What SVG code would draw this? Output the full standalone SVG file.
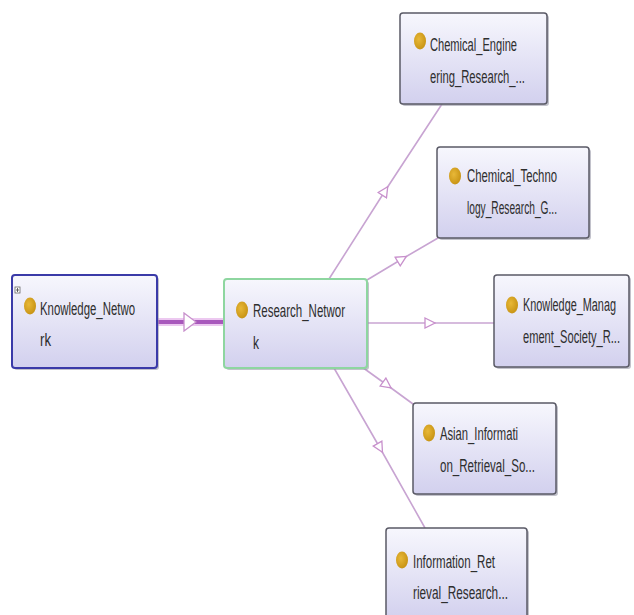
<svg xmlns="http://www.w3.org/2000/svg" width="634" height="615" viewBox="0 0 634 615">
<style>
.node{fill:url(#nodeFill);stroke:#5a5a66;stroke-width:1.5}
.shadow{fill:#9a9aa8;opacity:0.6}
.lbl{font-family:"Liberation Sans Narrow","Liberation Sans",Arial,sans-serif;font-size:14px;fill:#2e2e2e}
.dot{fill:url(#dotFill)}
.edge{fill:none;stroke:#c8a4d2;stroke-width:1.6;marker-mid:url(#tri)}
</style>
<defs>
<linearGradient id="nodeFill" x1="0" y1="0" x2="0" y2="1">
<stop offset="0" stop-color="#f7f7fd"/>
<stop offset="1" stop-color="#d2d0ee"/>
</linearGradient>
<radialGradient id="dotFill" cx="0.4" cy="0.4" r="0.7">
<stop offset="0" stop-color="#e8b838"/>
<stop offset="1" stop-color="#c48f10"/>
</radialGradient>
<marker id="tri" viewBox="0 0 12 12" refX="6" refY="6" markerWidth="12" markerHeight="12" markerUnits="userSpaceOnUse" orient="auto">
<polygon points="1,1 11,6 1,11" fill="#fff" stroke="#c890cc" stroke-width="1.3"/>
</marker>
<marker id="triBig" viewBox="0 0 14 20" refX="7" refY="10" markerWidth="14" markerHeight="20" markerUnits="userSpaceOnUse" orient="auto">
<polygon points="1,1 13,10 1,19" fill="#fff" stroke="#c890cc" stroke-width="1.3"/>
</marker>
</defs>

<g id="connectors">
<path d="M157,322 L224,322" fill="none" stroke="#ecc8f0" stroke-width="8"/>
<path d="M157,322 L190,322 L224,322" fill="none" stroke="#a858bc" stroke-width="4" style="marker-mid:url(#triBig)"/>
<path class="edge" d="M329,279 L385,191 L442,104"/>
<path class="edge" d="M367,280 L402,259 L438,238"/>
<path class="edge" d="M367,323 L430,323 L494,323"/>
<path class="edge" d="M362,367 L387,385 L413,404"/>
<path class="edge" d="M334,368 L380,448 L425,528"/>
</g>

<g id="knowledge_network">
<rect class="shadow" x="14" y="277" width="145" height="93" rx="3"/>
<rect x="12" y="275" width="145" height="93" rx="3" fill="url(#nodeFill)" stroke="#3a3aa8" stroke-width="2"/>
<rect x="15" y="287" width="5" height="6" fill="#fff" stroke="#666" stroke-width="0.8"/>
<path d="M16,290 H19 M17.5,288 V292" stroke="#444" stroke-width="0.8"/>
<ellipse class="dot" cx="30" cy="306" rx="6" ry="8.5"/>
<text class="lbl" transform="translate(40,315) scale(0.8,1.35)" textLength="118.75" lengthAdjust="spacingAndGlyphs">Knowledge_Netwo</text>
<text class="lbl" transform="translate(40,346) scale(0.8,1.35)" textLength="13.75" lengthAdjust="spacingAndGlyphs">rk</text>
</g>

<g id="research_network">
<rect class="shadow" x="226" y="281" width="143" height="89" rx="3"/>
<rect x="224" y="279" width="143" height="89" rx="3" fill="url(#nodeFill)" stroke="#8ed6a0" stroke-width="2"/>
<ellipse class="dot" cx="242" cy="310" rx="6" ry="8.5"/>
<text class="lbl" transform="translate(253,317) scale(0.8,1.35)" textLength="115" lengthAdjust="spacingAndGlyphs">Research_Networ</text>
<text class="lbl" transform="translate(253,349) scale(0.8,1.35)" textLength="7.5" lengthAdjust="spacingAndGlyphs">k</text>
</g>

<g id="chemical_engineering">
<rect class="shadow" x="402" y="15" width="147" height="91" rx="3"/>
<rect class="node" x="400" y="13" width="147" height="91" rx="3"/>
<ellipse class="dot" cx="420" cy="41" rx="6" ry="8.5"/>
<text class="lbl" transform="translate(430,51) scale(0.8,1.35)" textLength="108.75" lengthAdjust="spacingAndGlyphs">Chemical_Engine</text>
<text class="lbl" transform="translate(430,83) scale(0.8,1.35)" textLength="118.75" lengthAdjust="spacingAndGlyphs">ering_Research_...</text>
</g>

<g id="chemical_technology">
<rect class="shadow" x="439" y="149" width="152" height="91" rx="3"/>
<rect class="node" x="437" y="147" width="152" height="91" rx="3"/>
<ellipse class="dot" cx="455" cy="176" rx="6" ry="8.5"/>
<text class="lbl" transform="translate(467,182) scale(0.8,1.35)" textLength="112.5" lengthAdjust="spacingAndGlyphs">Chemical_Techno</text>
<text class="lbl" transform="translate(467,214) scale(0.8,1.35)" textLength="112.5" lengthAdjust="spacingAndGlyphs">logy_Research_G...</text>
</g>

<g id="knowledge_management">
<rect class="shadow" x="496" y="277" width="135" height="92" rx="3"/>
<rect class="node" x="494" y="275" width="135" height="92" rx="3"/>
<ellipse class="dot" cx="512" cy="305" rx="6" ry="8.5"/>
<text class="lbl" transform="translate(523,311) scale(0.8,1.35)" textLength="116.25" lengthAdjust="spacingAndGlyphs">Knowledge_Manag</text>
<text class="lbl" transform="translate(523,343) scale(0.8,1.35)" textLength="121.25" lengthAdjust="spacingAndGlyphs">ement_Society_R...</text>
</g>

<g id="asian_information">
<rect class="shadow" x="415" y="405" width="143" height="91" rx="3"/>
<rect class="node" x="413" y="403" width="143" height="91" rx="3"/>
<ellipse class="dot" cx="429" cy="433" rx="6" ry="8.5"/>
<text class="lbl" transform="translate(440,440) scale(0.8,1.35)" textLength="97.5" lengthAdjust="spacingAndGlyphs">Asian_Informati</text>
<text class="lbl" transform="translate(440,472) scale(0.8,1.35)" textLength="118.75" lengthAdjust="spacingAndGlyphs">on_Retrieval_So...</text>
</g>

<g id="information_retrieval">
<rect class="shadow" x="388" y="530" width="141" height="92" rx="3"/>
<rect class="node" x="386" y="528" width="141" height="92" rx="3"/>
<ellipse class="dot" cx="402" cy="560" rx="6" ry="8.5"/>
<text class="lbl" transform="translate(413,568) scale(0.8,1.35)" textLength="102.5" lengthAdjust="spacingAndGlyphs">Information_Ret</text>
<text class="lbl" transform="translate(413,599) scale(0.8,1.35)" textLength="118.75" lengthAdjust="spacingAndGlyphs">rieval_Research...</text>
</g>
</svg>
